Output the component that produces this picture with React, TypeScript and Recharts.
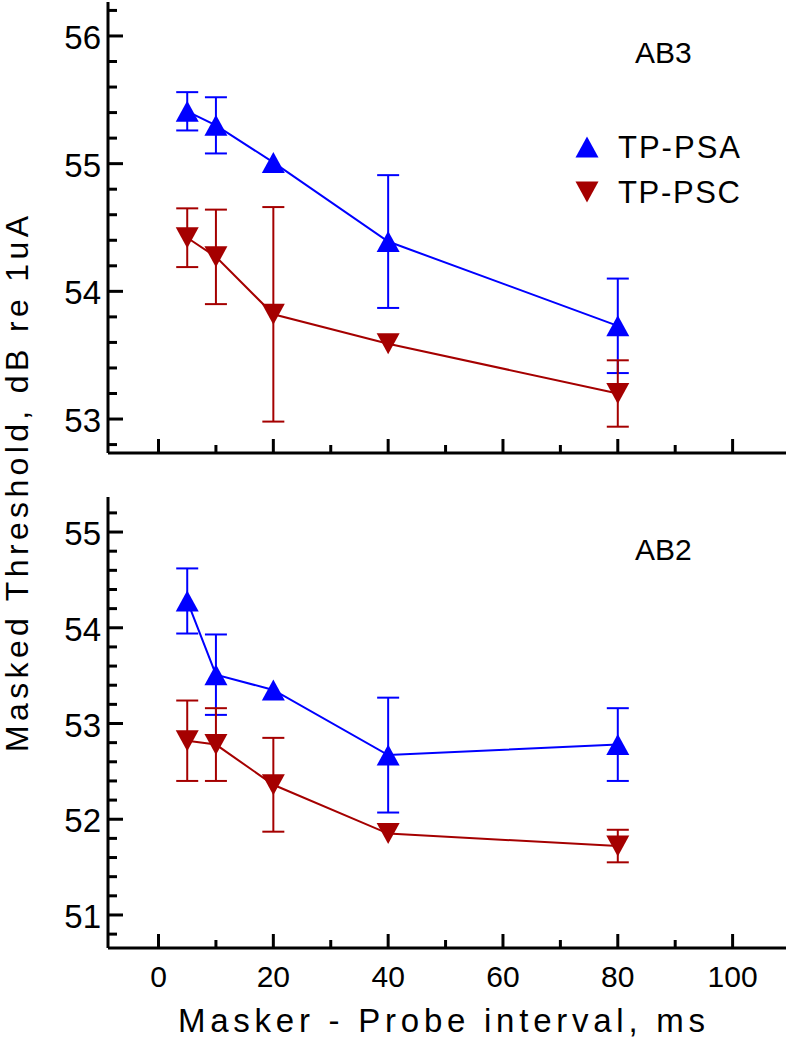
import React from 'react'
import { ErrorBar, Legend, Line, LineChart, XAxis, YAxis } from 'recharts'

// ─── Données ─────────────────────────────────────────────────────────────────

// Intervalle masqueur-sonde (ms)
const intervals = [5, 10, 20, 40, 80]

// AB3 (panneau du haut)
const ab3Psa = [55.41, 55.3, 55.01, 54.39, 53.73]
const ab3PsaErr = [0.15, 0.22, null, 0.52, 0.37]
const ab3Psc = [54.42, 54.27, 53.82, 53.59, 53.2]
const ab3PscErr = [0.23, 0.37, 0.84, null, 0.26]

// AB2 (panneau du bas)
const ab2Psa = [54.28, 53.51, 53.35, 52.67, 52.78]
const ab2PsaErr = [0.34, 0.42, null, 0.6, 0.38]
const ab2Psc = [52.82, 52.78, 52.36, 51.85, 51.72]
const ab2PscErr = [0.42, 0.38, 0.49, null, 0.17]

// Graduations
const xTicks = [0, 10, 20, 30, 40, 50, 60, 70, 80, 90, 100]
const ab3Ticks = [52.8, 53, 53.2, 53.4, 53.6, 53.8, 54, 54.2, 54.4, 54.6, 54.8, 55, 55.2, 55.4, 55.6, 55.8, 56, 56.2]
const ab2Ticks = [50.8, 51, 51.2, 51.4, 51.6, 51.8, 52, 52.2, 52.4, 52.6, 52.8, 53, 53.2, 53.4, 53.6, 53.8, 54, 54.2, 54.4, 54.6, 54.8, 55, 55.2]

const SERIES_NAMES = ['TP-PSA', 'TP-PSC']

// ─── Style ───────────────────────────────────────────────────────────────────

const BLUE = '#0000ff'
const RED = '#a50000'
const FONT = '"Liberation Sans", Arial, Helvetica, sans-serif'

function buildRows(psa: number[], psaErr: (number | null)[], psc: number[], pscErr: (number | null)[]) {
  return intervals.map((x, i) => ({ x, psa: psa[i], psaErr: psaErr[i], psc: psc[i], pscErr: pscErr[i] }))
}

const ab3Rows = buildRows(ab3Psa, ab3PsaErr, ab3Psc, ab3PscErr)
const ab2Rows = buildRows(ab2Psa, ab2PsaErr, ab2Psc, ab2PscErr)

// Triangles pleins (haut = PSA, bas = PSC)
function triangle(cx: number, cy: number, up: boolean, color: string, key?: string) {
  const w = 11.5
  const h = 10.5
  const pts = up
    ? `${cx},${cy - h} ${cx - w},${cy + h} ${cx + w},${cy + h}`
    : `${cx},${cy + h} ${cx - w},${cy - h} ${cx + w},${cy - h}`
  return <polygon key={key} points={pts} fill={color} stroke="none" />
}

const upDot = (p: any) => triangle(p.cx, p.cy, true, BLUE, `u-${p.index}`)
const downDot = (p: any) => triangle(p.cx, p.cy, false, RED, `d-${p.index}`)

function YTick(props: any) {
  const { x, y, payload } = props
  const v = payload.value as number
  const major = Math.abs(v - Math.round(v)) < 1e-6
  return (
    <g>
      <line x1={x} x2={x + (major ? 15 : 9)} y1={y} y2={y} stroke="#000" strokeWidth={3} />
      {major && (
        <text x={x - 7} y={y + 13} textAnchor="end" fontSize={33} fontFamily={FONT} fill="#000">
          {Math.round(v)}
        </text>
      )}
    </g>
  )
}

const makeXTick = (withLabels: boolean) => (props: any) => {
  const { x, y, payload } = props
  const v = payload.value as number
  const major = v % 20 === 0
  return (
    <g key={`xt-${v}`}>
      <line x1={x} x2={x} y1={y} y2={y - (major ? 14 : 8)} stroke="#000" strokeWidth={3} />
      {withLabels && major && (
        <text x={x} y={y + 39} textAnchor="middle" fontSize={30} fontFamily={FONT} fill="#000">
          {v}
        </text>
      )}
    </g>
  )
}

function renderLegend() {
  return (
    <svg width={200} height={90} style={{ display: 'block' }}>
      {triangle(17, 19, true, BLUE)}
      <text x={48} y={30} fontSize={31} fontFamily={FONT} fill="#000" textLength={122} lengthAdjust="spacing">
        {SERIES_NAMES[0]}
      </text>
      {triangle(17, 64, false, RED)}
      <text x={48} y={75} fontSize={31} fontFamily={FONT} fill="#000" textLength={122} lengthAdjust="spacing">
        {SERIES_NAMES[1]}
      </text>
    </svg>
  )
}

const axisLine = { stroke: '#000', strokeWidth: 3 }

function Panel({ rows, domain, ticks, labels, legend }: {
  rows: ReturnType<typeof buildRows>
  domain: [number, number]
  ticks: number[]
  labels: boolean
  legend: boolean
}) {
  // l'axe X a une hauteur de 1 px, comptée dans la marge du bas
  const margin = labels ? { top: 37, right: 0, bottom: 92, left: 8 } : { top: 2, right: 0, bottom: 6, left: 8 }
  const height = labels ? 581 : 460
  return (
    <LineChart width={786} height={height} data={rows} margin={margin}>
      <XAxis
        dataKey="x"
        type="number"
        domain={[-8.8, 109.3]}
        allowDataOverflow
        ticks={xTicks}
        interval={0}
        tickLine={false}
        tickSize={0}
        tickMargin={0}
        axisLine={axisLine}
        height={1}
        tick={makeXTick(labels)}
      />
      <YAxis
        type="number"
        domain={domain}
        allowDataOverflow
        ticks={ticks}
        interval={0}
        tickLine={false}
        tickSize={0}
        tickMargin={0}
        axisLine={axisLine}
        width={100}
        tick={<YTick />}
      />
      {legend && (
        <Legend
          layout="vertical"
          verticalAlign="middle"
          align="center"
          wrapperStyle={{ left: 570, top: 128, width: 200, height: 90 }}
          content={renderLegend}
        />
      )}
      <Line
        dataKey="psa"
        name={SERIES_NAMES[0]}
        stroke={BLUE}
        strokeWidth={2}
        dot={upDot}
        activeDot={false}
        isAnimationActive={false}
      >
        <ErrorBar dataKey="psaErr" direction="y" width={11} stroke={BLUE} strokeWidth={2} isAnimationActive={false} />
      </Line>
      <Line
        dataKey="psc"
        name={SERIES_NAMES[1]}
        stroke={RED}
        strokeWidth={2}
        dot={downDot}
        activeDot={false}
        isAnimationActive={false}
      >
        <ErrorBar dataKey="pscErr" direction="y" width={11} stroke={RED} strokeWidth={2} isAnimationActive={false} />
      </Line>
    </LineChart>
  )
}

export default function App() {
  return (
    <div style={{ position: 'absolute', left: 0, top: 0, width: 786, height: 1041, background: '#fff' }}>
      <div style={{ position: 'absolute', left: 0, top: 0 }}>
        <Panel rows={ab3Rows} domain={[52.734, 56.266]} ticks={ab3Ticks} labels={false} legend />
      </div>
      <div style={{ position: 'absolute', left: 0, top: 460 }}>
        <Panel rows={ab2Rows} domain={[50.655, 55.366]} ticks={ab2Ticks} labels legend={false} />
      </div>

      {/* Titres d'axes et étiquettes de panneaux */}
      <svg width={786} height={1041} style={{ position: 'absolute', left: 0, top: 0, pointerEvents: 'none' }}>
        <text x={635} y={63} fontSize={30} fontFamily={FONT} fill="#000">AB3</text>
        <text x={635} y={560} fontSize={30} fontFamily={FONT} fill="#000">AB2</text>
        <text
          transform="translate(28, 484) rotate(-90)"
          textAnchor="middle"
          fontSize={32}
          fontFamily={FONT}
          fill="#000"
          textLength={536}
          lengthAdjust="spacing"
        >
          Masked Threshold, dB re 1uA
        </text>
        <text
          x={441.5}
          y={1032}
          textAnchor="middle"
          fontSize={33}
          fontFamily={FONT}
          fill="#000"
          textLength={527}
          lengthAdjust="spacing"
        >
          Masker - Probe interval, ms
        </text>
      </svg>
    </div>
  )
}
